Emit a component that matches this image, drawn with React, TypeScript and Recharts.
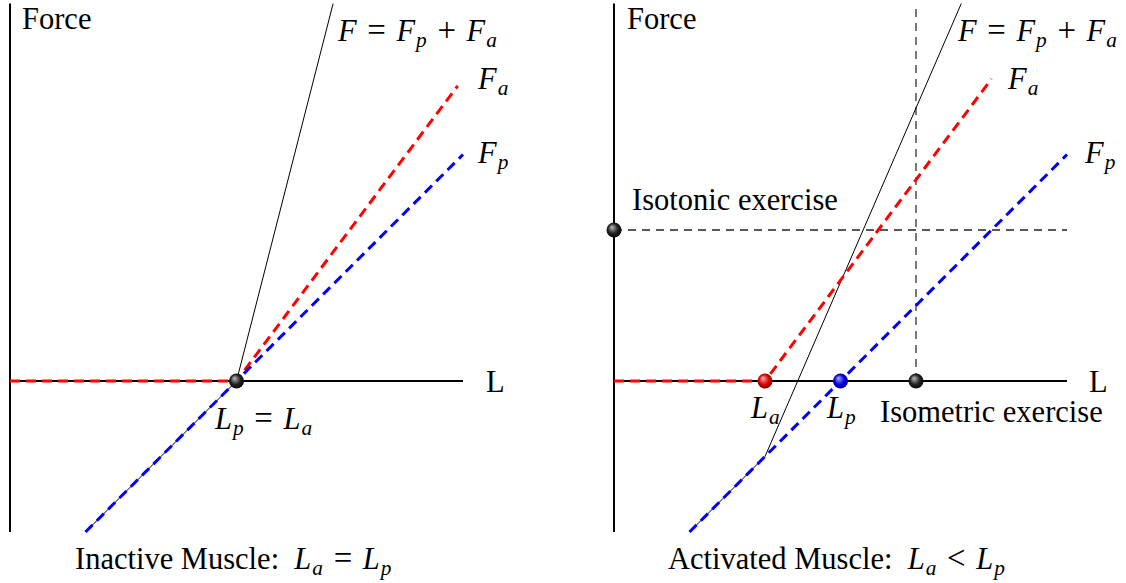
import React from 'react'
import { LineChart, Line, XAxis, YAxis, ReferenceDot } from 'recharts'

// drawing scale: one unit of length/force in pixels, and where the origin sits
const PX = 75.5
const ORIGIN_X = 10
const ORIGIN_Y = 381
const H = 583

type Pt = { x: number; y: number }

// --- inactive muscle (left) ---
const inactiveForceAxis: Pt[] = [{ x: 0, y: -2 }, { x: 0, y: 5 }]
const inactiveLengthAxis: Pt[] = [{ x: 0, y: 0 }, { x: 6, y: 0 }]
const inactiveFa: Pt[] = [{ x: 0, y: 0 }, { x: 3, y: 0 }, { x: 5.93, y: 3.91 }]
const inactiveFp: Pt[] = [{ x: 1, y: -2 }, { x: 3, y: 0 }, { x: 6, y: 3 }]
const inactiveTotal: Pt[] = [{ x: 1, y: -2 }, { x: 3, y: 0 }, { x: 4.28, y: 5 }]
const inactiveRest: Pt = { x: 3, y: 0 }

// --- activated muscle (right) ---
const activeForceAxis: Pt[] = [{ x: 0, y: -2 }, { x: 0, y: 5 }]
const activeLengthAxis: Pt[] = [{ x: 0, y: 0 }, { x: 6, y: 0 }]
const activeFa: Pt[] = [{ x: 0, y: 0 }, { x: 2, y: 0 }, { x: 5, y: 4 }]
const activeFp: Pt[] = [{ x: 1, y: -2 }, { x: 3, y: 0 }, { x: 6, y: 3 }]
const activeTotal: Pt[] = [{ x: 1, y: -2 }, { x: 2, y: -1 }, { x: 4.6, y: 5 }]
const isotonicLevel: Pt[] = [{ x: 0, y: 2 }, { x: 6, y: 2 }]
const isometricLength: Pt[] = [{ x: 4, y: 0 }, { x: 4, y: 5 }]
const activeLa: Pt = { x: 2, y: 0 }
const activeLp: Pt = { x: 3, y: 0 }
const isotonicDot: Pt = { x: 0, y: 2 }
const isometricDot: Pt = { x: 4, y: 0 }

type Series = { key: string; data: Pt[]; color: string; width: number; dash?: string }
type Dot = { key: string; p: Pt; shade: string }

const inactiveSeries: Series[] = [
  { key: 'fa', data: inactiveForceAxis, color: '#000', width: 2 },
  { key: 'la', data: inactiveLengthAxis, color: '#000', width: 2 },
  { key: 'tot', data: inactiveTotal, color: '#000', width: 1 },
  { key: 'Fa', data: inactiveFa, color: '#ff0000', width: 3, dash: '10 6' },
  { key: 'Fp', data: inactiveFp, color: '#0000ff', width: 3, dash: '10 6' },
]
const inactiveDots: Dot[] = [{ key: 'rest', p: inactiveRest, shade: 'black' }]

const activeSeries: Series[] = [
  { key: 'fa', data: activeForceAxis, color: '#000', width: 2 },
  { key: 'la', data: activeLengthAxis, color: '#000', width: 2 },
  { key: 'iso1', data: isotonicLevel, color: '#222', width: 1.3, dash: '8 6' },
  { key: 'iso2', data: isometricLength, color: '#333', width: 1.3, dash: '8 6' },
  { key: 'tot', data: activeTotal, color: '#000', width: 1 },
  { key: 'Fa', data: activeFa, color: '#ff0000', width: 3, dash: '10 6' },
  { key: 'Fp', data: activeFp, color: '#0000ff', width: 3, dash: '10 6' },
]
const activeDots: Dot[] = [
  { key: 'ton', p: isotonicDot, shade: 'black' },
  { key: 'met', p: isometricDot, shade: 'black' },
  { key: 'la', p: activeLa, shade: 'red' },
  { key: 'lp', p: activeLp, shade: 'blue' },
]

const SHADES: Record<string, [string, string, string]> = {
  black: ['#bdbdbd', '#222', '#000'],
  red: ['#ffb0b0', '#e00000', '#600000'],
  blue: ['#b0b0ff', '#0000e0', '#000060'],
}

const FONT = "'Liberation Serif', 'DejaVu Serif', 'Times New Roman', serif"
const FONT_SIZE = 30.5

function Panel({ id, left, width, series, dots }: { id: string; left: number; width: number; series: Series[]; dots: Dot[] }) {
  const x0 = -ORIGIN_X / PX
  const x1 = x0 + width / PX
  const y0 = -(H - ORIGIN_Y) / PX
  const y1 = ORIGIN_Y / PX
  return (
    <div style={{ position: 'absolute', left, top: 0 }}>
      <LineChart width={width} height={H} margin={{ top: 0, right: 0, bottom: 0, left: 0 }}>
        <defs>
          {Object.entries(SHADES).map(([name, [hi, mid, edge]]) => (
            <radialGradient key={name} id={`${id}-ball-${name}`} cx="50%" cy="50%" fx="35%" fy="30%" r="60%">
              <stop offset="0%" stopColor={hi} />
              <stop offset="55%" stopColor={mid} />
              <stop offset="100%" stopColor={edge} />
            </radialGradient>
          ))}
        </defs>
        <XAxis type="number" dataKey="x" domain={[x0, x1]} hide allowDataOverflow />
        <YAxis type="number" dataKey="y" domain={[y0, y1]} hide allowDataOverflow />
        {series.map((s) => (
          <Line
            key={s.key}
            data={s.data}
            dataKey="y"
            type="linear"
            stroke={s.color}
            strokeWidth={s.width}
            strokeDasharray={s.dash}
            dot={false}
            activeDot={false}
            isAnimationActive={false}
          />
        ))}
        {dots.map((d) => (
          <ReferenceDot key={d.key} x={d.p.x} y={d.p.y} r={7.5} fill={`url(#${id}-ball-${d.shade})`} stroke="none" />
        ))}
      </LineChart>
    </div>
  )
}

// tiny TeX-ish renderer: letters italic, _x subscript, operators get a bit of extra room
function mathSpans(src: string, k: string) {
  const out: React.ReactNode[] = []
  let lowered = false
  let i = 0
  while (i < src.length) {
    const c = src[i]
    if (c === '_') {
      out.push(
        <tspan key={k + i} style={{ fontStyle: 'italic', fontSize: '0.7em' }} dx={1} dy={6}>
          {src[i + 1]}
        </tspan>
      )
      lowered = true
      i += 2
      continue
    }
    const dy = lowered ? -6 : undefined
    lowered = false
    const op = c === '=' || c === '+' || c === '<'
    out.push(
      <tspan
        key={k + i}
        dy={dy}
        dx={c === ' ' ? 3 : undefined}
        style={{ fontStyle: /[A-Za-z]/.test(c) ? 'italic' : 'normal', fontSize: op ? '1.08em' : undefined }}
      >
        {c}
      </tspan>
    )
    i++
  }
  return out
}

type Label = { x: number; y: number; text?: string; math?: string }

const labels: Label[] = [
  { x: 22, y: 29, text: 'Force' },
  { x: 338, y: 41, math: 'F = F_p + F_a' },
  { x: 478, y: 89, math: 'F_a' },
  { x: 478, y: 163, math: 'F_p' },
  { x: 486, y: 392, text: 'L' },
  { x: 215, y: 429, math: 'L_p = L_a' },
  { x: 75, y: 569, text: 'Inactive Muscle:  ', math: 'L_a = L_p' },
  { x: 627, y: 29, text: 'Force' },
  { x: 958, y: 41, math: 'F = F_p + F_a' },
  { x: 1008, y: 89, math: 'F_a' },
  { x: 1085, y: 163, math: 'F_p' },
  { x: 1089, y: 392, text: 'L' },
  { x: 632, y: 210, text: 'Isotonic exercise' },
  { x: 880, y: 422, text: 'Isometric exercise' },
  { x: 751, y: 418, math: 'L_a' },
  { x: 827, y: 418, math: 'L_p' },
  { x: 668, y: 569, text: 'Activated Muscle:  ', math: 'L_a < L_p' },
]

export default function App() {
  return (
    <div style={{ position: 'absolute', left: 0, top: 0, width: 1126, height: H, overflow: 'hidden', background: '#fff' }}>
      <Panel id="inactive" left={0} width={600} series={inactiveSeries} dots={inactiveDots} />
      <Panel id="active" left={604} width={522} series={activeSeries} dots={activeDots} />
      <svg width={1126} height={H} style={{ position: 'absolute', left: 0, top: 0, pointerEvents: 'none' }}>
        {labels.map((l, n) => (
          <text
            key={n}
            x={l.x}
            y={l.y}
            fill="#000"
            style={{ whiteSpace: 'pre', fontFamily: FONT, fontSize: FONT_SIZE }}
          >
            {l.text ? <tspan>{l.text}</tspan> : null}
            {l.math ? mathSpans(l.math, `m${n}-`) : null}
          </text>
        ))}
      </svg>
    </div>
  )
}
